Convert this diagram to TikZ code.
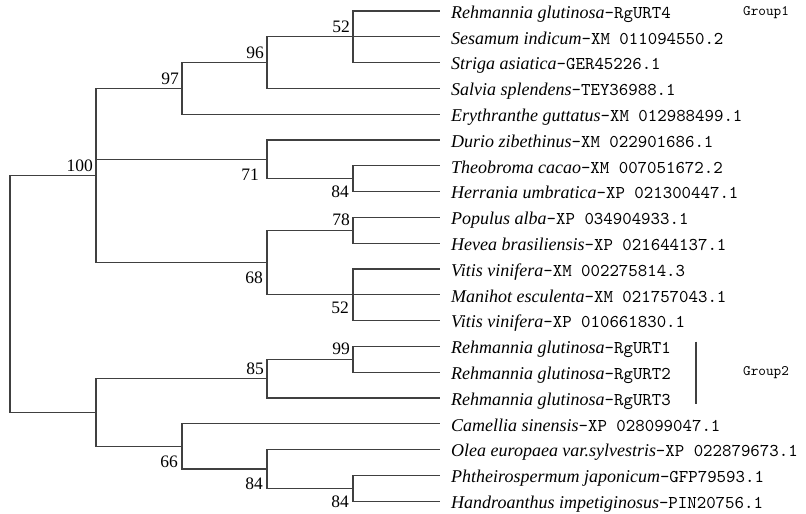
\documentclass[tikz,border=0pt]{standalone}
\usepackage{fontspec}
\setmainfont{Liberation Serif}
\setmonofont{lmmono10-regular.otf}
\usetikzlibrary{positioning}

\begin{document}
\begin{tikzpicture}[
x=1pt, y=-1pt,
font=\fontsize{18}{20}\selectfont,
branch/.style={draw=black!75, line width=1.3pt},
leaf/.style={anchor=west, inner xsep=11pt, inner ysep=0pt,
    text height=20.2pt, text depth=5.6pt, node distance=25.8pt},
bsup/.style={anchor=south east, inner sep=0pt, xshift=-3pt, yshift=4pt,
    font=\fontsize{17.5}{18}\selectfont},
bsdown/.style={anchor=north east, inner sep=0pt, xshift=-4pt, yshift=-9pt,
    font=\fontsize{17.5}{18}\selectfont},
group/.style={anchor=base west, inner sep=0pt, font=\fontsize{14.5}{16}\selectfont\ttfamily},
]
\useasboundingbox (0,0) rectangle (806,514);

% leaves
\node (l1) [leaf] at (440,11) {{\itshape Rehmannia glutinosa}\texttt{-RgURT4}};
\node (l2) [leaf, below=of l1.west, anchor=west] {{\itshape Sesamum indicum}\texttt{-XM 011094550.2}};
\node (l3) [leaf, below=of l2.west, anchor=west] {{\itshape Striga asiatica}\texttt{-GER45226.1}};
\node (l4) [leaf, below=of l3.west, anchor=west] {{\itshape Salvia splendens}\texttt{-TEY36988.1}};
\node (l5) [leaf, below=of l4.west, anchor=west] {{\itshape Erythranthe guttatus}\texttt{-XM 012988499.1}};
\node (l6) [leaf, below=of l5.west, anchor=west] {{\itshape Durio zibethinus}\texttt{-XM 022901686.1}};
\node (l7) [leaf, below=of l6.west, anchor=west] {{\itshape Theobroma cacao}\texttt{-XM 007051672.2}};
\node (l8) [leaf, below=of l7.west, anchor=west] {{\itshape Herrania umbratica}\texttt{-XP 021300447.1}};
\node (l9) [leaf, below=of l8.west, anchor=west] {{\itshape Populus alba}\texttt{-XP 034904933.1}};
\node (l10) [leaf, below=of l9.west, anchor=west] {{\itshape Hevea brasiliensis}\texttt{-XP 021644137.1}};
\node (l11) [leaf, below=of l10.west, anchor=west] {{\itshape Vitis vinifera}\texttt{-XM 002275814.3}};
\node (l12) [leaf, below=of l11.west, anchor=west] {{\itshape Manihot esculenta}\texttt{-XM 021757043.1}};
\node (l13) [leaf, below=of l12.west, anchor=west] {{\itshape Vitis vinifera}\texttt{-XP 010661830.1}};
\node (l14) [leaf, below=of l13.west, anchor=west] {{\itshape Rehmannia glutinosa}\texttt{-RgURT1}};
\node (l15) [leaf, below=of l14.west, anchor=west] {{\itshape Rehmannia glutinosa}\texttt{-RgURT2}};
\node (l16) [leaf, below=of l15.west, anchor=west] {{\itshape Rehmannia glutinosa}\texttt{-RgURT3}};
\node (l17) [leaf, below=of l16.west, anchor=west] {{\itshape Camellia sinensis}\texttt{-XP 028099047.1}};
\node (l18) [leaf, below=of l17.west, anchor=west] {{\itshape Olea europaea var.sylvestris}\texttt{-XP 022879673.1}};
\node (l19) [leaf, below=of l18.west, anchor=west] {{\itshape Phtheirospermum japonicum}\texttt{-GFP79593.1}};
\node (l20) [leaf, below=of l19.west, anchor=west] {{\itshape Handroanthus impetiginosus}\texttt{-PIN20756.1}};

% inner nodes of the tree
\coordinate (root) at (10,294);
\coordinate (n100) at (96,175.5);
\coordinate (nlow) at (96,412.5);
\coordinate (n97) at (182,88.4);
\coordinate (n96) at (267,62.6);
\coordinate (n52a) at (353,36.8);
\coordinate (n71) at (267,159.3);
\coordinate (n84a) at (353,178.7);
\coordinate (n68) at (267,262.5);
\coordinate (n78) at (353,230.3);
\coordinate (n52b) at (353,294.8);
\coordinate (n85) at (267,378.6);
\coordinate (n99) at (353,359.3);
\coordinate (n66) at (182,446.4);
\coordinate (n84b) at (267,469);
\coordinate (n84c) at (353,488.3);

\draw[branch] (root) |- (n100) (root) |- (nlow);
\draw[branch] (n100) |- (n97) (n100) |- (n71) (n100) |- (n68);
\draw[branch] (n97) |- (n96) (n97) |- (l5.west);
\draw[branch] (n96) |- (n52a) (n96) |- (l4.west);
\draw[branch] (n52a) |- (l1.west) (n52a) |- (l2.west) (n52a) |- (l3.west);
\draw[branch] (n71) |- (l6.west) (n71) |- (n84a);
\draw[branch] (n84a) |- (l7.west) (n84a) |- (l8.west);
\draw[branch] (n68) |- (n78) (n68) |- (n52b);
\draw[branch] (n78) |- (l9.west) (n78) |- (l10.west);
\draw[branch] (n52b) |- (l11.west) (n52b) |- (l12.west) (n52b) |- (l13.west);
\draw[branch] (nlow) |- (n85) (nlow) |- (n66);
\draw[branch] (n85) |- (n99) (n85) |- (l16.west);
\draw[branch] (n99) |- (l14.west) (n99) |- (l15.west);
\draw[branch] (n66) |- (l17.west) (n66) |- (n84b);
\draw[branch] (n84b) |- (l18.west) (n84b) |- (n84c);
\draw[branch] (n84c) |- (l19.west) (n84c) |- (l20.west);

% bootstrap values
\node (b100) [bsup] at (n100) {100};
\node (b97) [bsup] at (n97) {97};
\node (b96) [bsup] at (n96) {96};
\node (b52a) [bsup] at (n52a) {52};
\node (b78) [bsup] at (n78) {78};
\node (b85) [bsup] at (n85) {85};
\node (b99) [bsup] at (n99) {99};
\node (b71) [bsdown, xshift=-4pt] at (n71) {71};
\node (b84a) [bsdown, yshift=2pt] at (n84a) {84};
\node (b68) [bsdown] at (n68) {68};
\node (b52b) [bsdown, yshift=2pt] at (n52b) {52};
\node (b66) [bsdown] at (n66) {66};
\node (b84b) [bsdown] at (n84b) {84};
\node (b84c) [bsdown, yshift=2pt] at (n84c) {84};

% groups
\node (grp1) [group] at (743,16) {Group1};
\coordinate (g2top) at (696,341.7);
\coordinate (g2bot) at (696,404);
\draw[branch] (g2top) -- (g2bot);
\node (grp2) [group] at (743,375) {Group2};

\end{tikzpicture}
\end{document}
